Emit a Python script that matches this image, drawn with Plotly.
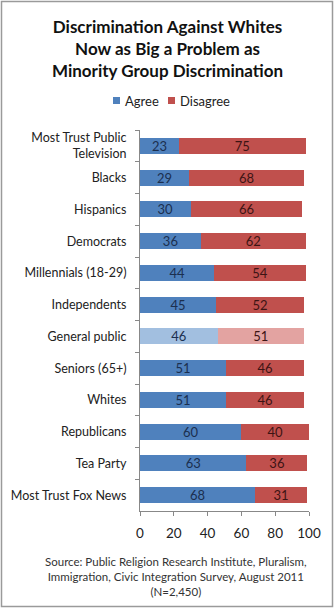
import plotly.graph_objects as go

# Survey groups, top to bottom
groups = [
    "Most Trust Public<br>Television", "Blacks", "Hispanics", "Democrats",
    "Millennials (18-29)", "Independents", "General public", "Seniors (65+)",
    "Whites", "Republicans", "Tea Party", "Most Trust Fox News",
]
agree = [23, 29, 30, 36, 44, 45, 46, 51, 51, 60, 63, 68]
disagree = [75, 68, 66, 62, 54, 52, 51, 46, 46, 40, 36, 31]
x_ticks = [0, 20, 40, 60, 80, 100]
series_names = ["Agree", "Disagree"]

W, H = 334, 610
L, R, T, B = 140, 25, 130, 99

BLUE, RED = "#4F81BD", "#C0504D"
BLUE_LT, RED_LT = "#A2BFE0", "#E3A3A1"
agree_colors = [BLUE_LT if g == "General public" else BLUE for g in groups]
disagree_colors = [RED_LT if g == "General public" else RED for g in groups]

FONT = "Lato, 'Open Sans', sans-serif"

fig = go.Figure()
fig.add_trace(go.Bar(
    name=series_names[0], y=groups, x=agree, orientation="h",
    marker=dict(color=agree_colors, line=dict(width=0)),
    text=[str(v) for v in agree], textposition="inside",
    insidetextanchor="middle", textangle=0, constraintext="none",
    textfont=dict(color="#1B2F4F", size=13, family=FONT),
))
fig.add_trace(go.Bar(
    name=series_names[1], y=groups, x=disagree, orientation="h",
    marker=dict(color=disagree_colors, line=dict(width=0)),
    text=[str(v) for v in disagree], textposition="inside",
    insidetextanchor="middle", textangle=0, constraintext="none",
    textfont=dict(color="#3D1414", size=13, family=FONT),
))

def px_x(p):
    return (p - L) / (W - L - R)

def px_y(p):
    return 1 - (p - T) / (H - T - B)

annotations = [
    dict(text="<b>Discrimination Against Whites<br>Now as Big a Problem as<br>Minority Group Discrimination</b>",
         x=px_x(167), y=px_y(49), xref="paper", yref="paper",
         xanchor="center", yanchor="middle", showarrow=False, align="center",
         font=dict(size=17, color="#111111", family=FONT)),
    dict(text="Source: Public Religion Research Institute, Pluralism,<br>"
              "Immigration, Civic Integration Survey, August 2011<br>(N=2,450)",
         x=px_x(176), y=px_y(576), xref="paper", yref="paper",
         xanchor="center", yanchor="middle", showarrow=False, align="center",
         font=dict(size=11.5, color="#333333", family=FONT)),
]

shapes = [
    dict(type="rect", xref="paper", yref="paper",
         x0=px_x(1.5), x1=px_x(332.5), y0=px_y(1.5), y1=px_y(606.5),
         line=dict(color="#9A9A9A", width=1.5), fillcolor="rgba(0,0,0,0)", layer="below"),
]

# Legend: small colour squares with labels, laid out in one row
legend_items = [(series_names[0], BLUE, 113), (series_names[1], RED, 168)]
for name, color, sx in legend_items:
    shapes.append(dict(type="rect", xref="paper", yref="paper",
                       x0=px_x(sx), x1=px_x(sx + 7), y0=px_y(97), y1=px_y(104),
                       line=dict(width=0), fillcolor=color))
    annotations.append(dict(text=name, x=px_x(sx + 10), y=px_y(101),
                            xref="paper", yref="paper", xanchor="left", yanchor="middle",
                            showarrow=False, font=dict(size=13, color="#222222", family=FONT)))

fig.update_layout(
    width=W, height=H,
    margin=dict(l=L, r=R, t=T, b=B),
    paper_bgcolor="white", plot_bgcolor="white",
    barmode="stack", bargap=0.5,
    font=dict(family=FONT, color="#222222"),
    showlegend=False,
    annotations=annotations, shapes=shapes,
    xaxis=dict(range=[0, 100], tickvals=x_ticks, ticks="outside", ticklen=4,
               tickcolor="#888888", showline=True, linecolor="#888888", linewidth=1,
               showgrid=False, zeroline=False, ticklabelstandoff=6,
               tickfont=dict(size=13.5, color="#222222", family=FONT)),
    yaxis=dict(autorange="reversed", ticks="outside", ticklen=4, tickson="boundaries",
               tickcolor="#888888", showline=True, linecolor="#888888", linewidth=1,
               showgrid=False, ticklabelstandoff=10,
               tickfont=dict(size=12.5, color="#222222", family=FONT)),
)

fig.write_html("out.html")
